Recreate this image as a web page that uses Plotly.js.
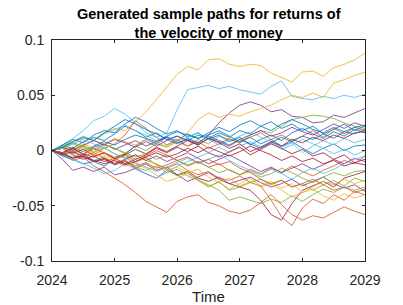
<!DOCTYPE html>
<html>
<head>
<meta charset="utf-8">
<script src="https://cdn.plot.ly/plotly-3.0.1.min.js"></script>
<style>html,body{margin:0;padding:0;background:#fff;}#chart{width:403px;height:305px;}</style>
</head>
<body>
<div id="chart"></div>
<script>
// time grid: every two months from 2024 to 2029
const times = [2024, 2024.167, 2024.333, 2024.5, 2024.667, 2024.833,
  2025, 2025.167, 2025.333, 2025.5, 2025.667, 2025.833,
  2026, 2026.167, 2026.333, 2026.5, 2026.667, 2026.833,
  2027, 2027.167, 2027.333, 2027.5, 2027.667, 2027.833,
  2028, 2028.167, 2028.333, 2028.5, 2028.667, 2028.833, 2029];

const xTickVals = [2024, 2025, 2026, 2027, 2028, 2029];
const xTickText = ["2024", "2025", "2026", "2027", "2028", "2029"];
const yTickVals = [-0.1, -0.05, 0, 0.05, 0.1];
const yTickText = ["-0.1", "-0.05", "0", "0.05", "0.1"];

const path01 = [0, .004, .002, .008, .012, .009, .015, .022, .018, .012, .016, .010, .013, .009, .014, .011, .016, .012, .018, .015, .022, .026, .020, .024, .018, .022, .015, .019, .024, .018, .022];
const path02 = [0, -.004, -.009, -.006, -.014, -.019, -.025, -.031, -.038, -.046, -.051, -.056, -.046, -.042, -.040, -.047, -.050, -.055, -.057, -.054, -.047, -.040, -.049, -.058, -.063, -.059, -.061, -.056, -.051, -.055, -.058];
const path03 = [0, .005, .008, .011, .010, .016, .020, .018, .026, .035, .046, .058, .069, .076, .073, .082, .083, .078, .076, .078, .077, .070, .066, .062, .071, .072, .067, .075, .078, .082, .088];
const path04 = [0, -.003, .002, -.004, .003, .006, .001, .005, .009, .004, .008, .012, .007, .010, .006, .014, .025, .034, .041, .044, .041, .035, .037, .031, .030, .025, .026, .032, .030, .034, .038];
const path05 = [0, .003, -.002, .004, -.001, .005, .002, -.003, .004, .000, .006, .003, .008, .004, .010, .006, .013, .010, .007, .014, .018, .016, .022, .028, .030, .032, .031, .029, .025, .022, .020];
const path06 = [0, .005, .011, .018, .027, .031, .038, .033, .025, .016, .012, .016, .037, .055, .057, .059, .056, .058, .055, .053, .051, .058, .063, .049, .047, .046, .049, .047, .050, .048, .051];
const path07 = [0, -.003, -.007, -.004, -.010, -.008, -.013, -.010, -.016, -.012, -.018, -.015, -.022, -.019, -.025, -.028, -.024, -.030, -.033, -.036, -.045, -.058, -.063, -.048, -.036, -.032, -.028, -.033, -.025, -.022, -.019];
const path08 = [0, -.005, -.008, -.012, -.010, -.014, -.008, -.003, .004, .010, .006, .012, .009, .015, .011, .014, .018, .013, .008, .012, .006, .010, .004, .008, .002, -.003, .002, .006, .000, .004, .005];
const path09 = [0, .003, -.002, .001, -.005, -.002, -.008, -.004, -.010, -.006, -.013, -.016, -.012, -.018, -.022, -.019, -.025, -.027, -.023, -.029, -.032, -.045, -.060, -.068, -.052, -.044, -.048, -.040, -.045, -.037, -.040];
const path10 = [0, .003, .007, .004, .009, .006, .011, .008, .005, .010, .007, .004, .009, .016, .028, .034, .030, .033, .031, .035, .038, .041, .046, .050, .048, .052, .048, .061, .064, .068, .071];
const path11 = [0, -.008, -.018, -.015, -.019, -.015, -.022, -.020, -.016, -.021, -.025, -.018, -.022, -.028, -.024, -.020, -.026, -.030, -.027, -.024, -.029, -.033, -.030, -.026, -.032, -.028, -.024, -.030, -.034, -.031, -.037];
const path12 = [0, -.002, -.006, -.003, -.009, -.006, -.012, -.009, -.015, -.018, -.014, -.020, -.017, -.023, -.027, -.031, -.036, -.045, -.042, -.045, -.048, -.044, -.047, -.041, -.046, -.040, -.035, -.038, -.033, -.036, -.033];
const path13 = [0, -.004, -.008, -.012, -.016, -.021, -.018, -.012, -.017, -.021, -.025, -.020, -.014, -.010, -.006, -.002, .003, -.002, .004, .008, .003, .007, .001, .005, .010, .006, .002, -.003, .001, -.004, .000];
const path14 = [0, .002, -.004, -.008, -.005, -.010, -.007, -.012, -.008, -.004, .002, -.002, .003, -.001, .004, -.002, -.006, -.001, .003, -.004, .001, .006, .002, -.003, .001, -.005, -.002, -.008, -.004, -.011, -.008];
const path15 = [0, .005, .010, .007, .014, .018, .016, .024, .030, .026, .020, .015, .018, .012, .016, .010, .014, .008, .012, .005, .010, .014, .009, .016, .020, .015, .011, .017, .013, .019, .016];
const path16 = [0, .002, -.003, .001, -.004, .002, .006, .014, .027, .020, .012, .005, .010, .004, .008, .002, .006, .011, .007, .012, .016, .010, .014, .009, .013, .018, .012, .020, .015, .021, .018];
const path17 = [0, .004, .001, .006, .002, -.004, -.008, -.005, -.012, -.016, -.022, -.028, -.025, -.021, -.026, -.032, -.029, -.035, -.030, -.025, -.032, -.028, -.034, -.030, -.038, -.033, -.028, -.031, -.026, -.030, -.027];
const path18 = [0, .003, .000, .005, .009, .005, .010, .007, .003, .008, .004, .009, .013, .009, .005, .011, .008, .004, .010, .014, .018, .013, .016, .021, .017, .014, .019, .024, .020, .025, .022];
const path19 = [0, .002, .006, .002, -.002, .003, -.003, -.007, -.004, -.009, -.012, -.017, -.023, -.020, -.027, -.033, -.028, -.036, -.033, -.029, -.026, -.031, -.027, -.033, -.030, -.036, -.031, -.027, -.032, -.025, -.028];
const path20 = [0, .004, .008, .013, .009, .015, .019, .023, .018, .014, .009, .013, .008, .012, .016, .010, .005, .009, .013, .017, .012, .008, .003, .007, -.002, .004, .009, .005, .011, .007, .010];
const path21 = [0, -.002, .002, -.003, -.006, -.002, -.007, -.004, .001, -.003, .003, -.001, .004, .009, .005, .011, .007, .002, .006, -.001, .003, .008, .004, .010, .007, .012, .009, .014, .011, .016, .017];
const path22 = [0, -.002, .003, -.001, .004, .008, .005, .010, .014, .011, .008, .013, .017, .014, .011, .016, .021, .017, .023, .027, .022, .018, .024, .028, .024, .019, .016, .021, .017, .015, .019];
const path23 = [0, -.003, -.001, -.005, -.002, -.007, -.012, -.009, -.014, -.011, -.016, -.013, -.009, -.014, -.010, -.015, -.012, -.018, -.022, -.017, -.021, -.016, -.020, -.014, -.019, -.023, -.018, -.014, -.009, -.012, -.005];
const path24 = [0, .002, -.001, .003, -.002, -.006, -.010, -.014, -.011, -.007, -.013, -.018, -.015, -.020, -.017, -.024, -.029, -.025, -.032, -.028, -.033, -.030, -.036, -.042, -.038, -.035, -.041, -.045, -.039, -.043, -.040];
const path25 = [0, -.004, -.001, -.006, -.010, -.007, -.012, -.008, -.004, -.009, -.005, -.010, -.006, -.002, -.007, -.012, -.008, -.004, -.009, -.014, -.019, -.015, -.020, -.016, -.012, -.017, -.013, -.008, -.012, -.007, -.010];
const path26 = [0, .003, .007, .004, .001, .005, .002, -.002, -.006, -.003, -.008, -.004, -.009, -.013, -.010, -.015, -.020, -.017, -.022, -.019, -.024, -.021, -.016, -.020, -.025, -.029, -.024, -.020, -.023, -.019, -.018];
const path27 = [0, .002, .006, .010, .006, .002, -.003, -.007, -.011, -.015, -.019, -.015, -.011, -.007, -.012, -.008, -.004, -.009, -.014, -.018, -.022, -.017, -.021, -.026, -.020, -.016, -.021, -.017, -.012, -.008, -.005];
const path28 = [0, -.003, -.007, -.005, -.009, -.012, -.009, -.013, -.010, -.006, -.002, -.006, -.003, .002, -.002, .003, -.001, -.005, -.001, .004, .000, -.004, -.009, -.005, -.010, -.007, -.012, -.009, -.014, -.011, -.013];
const path29 = [0, .003, .008, .012, .009, .016, .022, .028, .024, .019, .015, .010, .006, .011, .007, .013, .009, .005, .010, .006, .002, .007, .012, .008, .013, .010, .015, .011, .017, .021, .023];
const path30 = [0, -.002, .001, -.003, .002, -.002, -.006, -.003, -.008, -.005, .000, -.004, -.009, -.006, -.011, -.008, -.013, -.010, -.016, -.020, -.026, -.030, -.027, -.033, -.030, -.026, -.031, -.036, -.033, -.038, -.035];

const paths = [path01, path02, path03, path04, path05, path06, path07, path08, path09, path10,
  path11, path12, path13, path14, path15, path16, path17, path18, path19, path20,
  path21, path22, path23, path24, path25, path26, path27, path28, path29, path30];

const colorOrder = ["#0072BD", "#D95319", "#EDB120", "#7E2F8E", "#77AC30", "#4DBEEE", "#A2142F"];

const traces = paths.map((p, i) => ({
  x: times,
  y: p,
  type: "scatter",
  mode: "lines",
  line: {color: colorOrder[i % colorOrder.length], width: 0.9},
  opacity: 0.9,
  hoverinfo: "skip",
  showlegend: false
}));

const fam = "Liberation Sans, Arial, sans-serif";
const axisFont = {family: fam, size: 14, color: "#262626"};

const layout = {
  width: 403,
  height: 305,
  margin: {l: 52, r: 38, t: 40, b: 44, pad: 0},
  paper_bgcolor: "#ffffff",
  plot_bgcolor: "#ffffff",
  showlegend: false,
  annotations: [{
    text: "<b>Generated sample paths for returns of<br>the velocity of money</b>",
    font: {family: fam, size: 14.5, color: "#000000"},
    x: 0.5, xref: "paper", xanchor: "center",
    y: 1, yref: "paper", yanchor: "bottom",
    yshift: -2,
    showarrow: false,
    align: "center",
    borderpad: 0
  }],
  xaxis: {
    range: [2024, 2029],
    tickvals: xTickVals,
    ticktext: xTickText,
    ticks: "inside",
    ticklen: 3,
    tickcolor: "#262626",
    tickwidth: 1,
    showline: true,
    linecolor: "#262626",
    linewidth: 1,
    mirror: "ticks",
    showgrid: false,
    zeroline: false,
    tickfont: axisFont,
    ticklabelstandoff: 6,
    title: {text: "Time", font: {family: fam, size: 15, color: "#262626"}, standoff: 2}
  },
  yaxis: {
    range: [-0.1, 0.1],
    tickvals: yTickVals,
    ticktext: yTickText,
    ticks: "inside",
    ticklen: 3,
    tickcolor: "#262626",
    tickwidth: 1,
    showline: true,
    linecolor: "#262626",
    linewidth: 1,
    mirror: "ticks",
    showgrid: false,
    zeroline: false,
    tickfont: axisFont,
    ticklabelstandoff: 4
  }
};

Plotly.newPlot("chart", traces, layout, {staticPlot: true, displayModeBar: false});
</script>
</body>
</html>
